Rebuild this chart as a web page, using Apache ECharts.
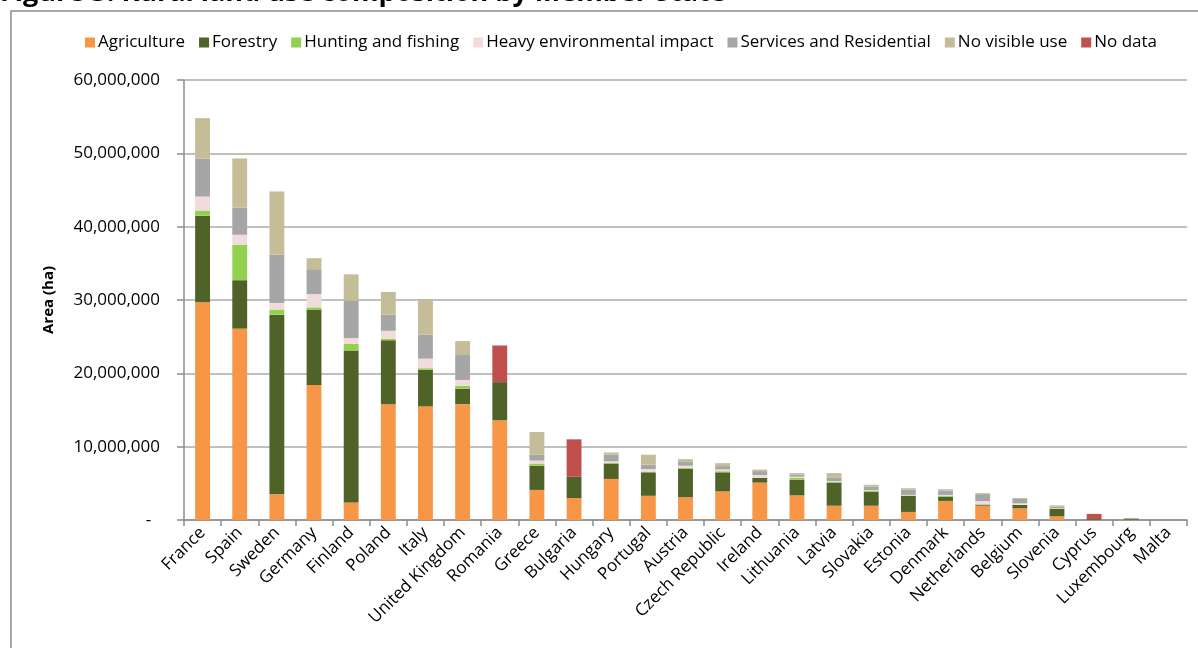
<!DOCTYPE html>
<html>
<head>
<meta charset="utf-8">
<script src="https://cdn.jsdelivr.net/npm/echarts@6/dist/echarts.min.js"></script>
<style>
html,body{margin:0;padding:0;background:#fff;}
#chart{width:1198px;height:648px;}
</style>
</head>
<body>
<div id="chart"></div>
<script>
const categories = ["France","Spain","Sweden","Germany","Finland","Poland","Italy","United Kingdom","Romania","Greece","Bulgaria","Hungary","Portugal","Austria","Czech Republic","Ireland","Lithuania","Latvia","Slovakia","Estonia","Denmark","Netherlands","Belgium","Slovenia","Cyprus","Luxembourg","Malta"];

const agriculture = [29700000,26100000,3500000,18400000,2400000,15800000,15500000,15800000,13600000,4100000,3000000,5600000,3300000,3100000,3900000,5100000,3360000,1950000,1950000,1100000,2600000,1950000,1600000,500000,30000,50000,10000];
const forestry = [11800000,6600000,24500000,10300000,20700000,8700000,5000000,2100000,5200000,3300000,2900000,2100000,3200000,3900000,2600000,650000,2140000,3150000,1900000,2200000,550000,150000,450000,1000000,100000,150000,10000];
const hunting = [700000,4800000,700000,300000,900000,200000,200000,400000,0,300000,0,100000,100000,100000,150000,20000,250000,120000,120000,50000,120000,30000,20000,50000,0,10000,0];
const heavyImpact = [1900000,1400000,900000,1800000,800000,1100000,1300000,800000,0,400000,0,200000,350000,300000,250000,350000,150000,80000,100000,80000,150000,450000,200000,50000,0,10000,0];
const services = [5200000,3700000,6600000,3400000,5100000,2200000,3300000,3400000,0,800000,0,900000,600000,500000,450000,550000,300000,450000,500000,700000,600000,950000,600000,220000,0,30000,5000];
const noVisibleUse = [5500000,6700000,8600000,1500000,3600000,3100000,4800000,1900000,0,3100000,0,300000,1350000,400000,400000,200000,200000,650000,230000,200000,180000,130000,130000,180000,0,30000,5000];
const noData = [0,0,0,0,0,0,0,0,5000000,0,5100000,0,0,0,0,0,0,0,0,0,0,0,0,0,700000,0,0];

const yTicks = [0,10000000,20000000,30000000,40000000,50000000,60000000];

const seriesDefs = [
  ["Agriculture", agriculture, "#F79646"],
  ["Forestry", forestry, "#4F6228"],
  ["Hunting and fishing", hunting, "#92D050"],
  ["Heavy environmental impact", heavyImpact, "#F2DCDB"],
  ["Services and Residential", services, "#A6A6A6"],
  ["No visible use", noVisibleUse, "#C4BD97"],
  ["No data", noData, "#C0504D"]
];

const chart = echarts.init(document.getElementById('chart'), null, {renderer:'canvas'});
const fmt = v => v === 0 ? '-  ' : v.toLocaleString('en-US');

chart.setOption({
  animation: false,
  textStyle: {fontFamily: 'Open Sans'},
  graphic: [
    {type:'rect', shape:{x:11, y:11, width:1200, height:700}, style:{fill:'none', stroke:'#8c8c8c', lineWidth:1.5}, z:-1},
    {type:'text', left:0, top:-20, style:{text:'Figure 3: Rural land use composition by Member State', font:'bold 27px "Open Sans"', fill:'#000'}}
  ],
  legend: {
    top: 29, left: 80,
    itemWidth: 10, itemHeight: 10, itemGap: 14,
    icon: 'rect',
    textStyle: {fontFamily:'Open Sans', fontSize: 17, color:'#000', padding:[0,0,0,-2]},
    data: seriesDefs.map(s => s[0])
  },
  grid: {left: 184, right: 11, top: 80, bottom: 128, containLabel: false},
  xAxis: {
    type: 'category',
    data: categories,
    boundaryGap: true,
    axisLine: {show:true, lineStyle:{color:'#8c8c8c', width:1.5}},
    axisTick: {show:true, interval:0, length:6, lineStyle:{color:'#8c8c8c', width:1.5}},
    axisLabel: {interval:0, rotate:45, fontSize:17, color:'#000', margin:10, fontFamily:'Open Sans'}
  },
  yAxis: {
    type: 'value',
    min: 0, max: 60000000, interval: 10000000,
    name: 'Area (ha)', nameLocation:'middle', nameGap: 128,
    nameTextStyle: {fontWeight:'bold', fontSize:15, color:'#000', fontFamily:'Open Sans'},
    axisLine: {show:true, lineStyle:{color:'#8c8c8c', width:1.5}},
    axisTick: {show:true, length:7, lineStyle:{color:'#8c8c8c', width:1.5}},
    axisLabel: {fontSize:17, color:'#000', margin:24, formatter: fmt, fontFamily:'Open Sans'},
    splitLine: {show:true, lineStyle:{color:'#ababab', width:1.5}}
  },
  series: seriesDefs.map(s => ({
    name: s[0], type: 'bar', stack: 'total', data: s[1],
    barWidth: '40%',
    itemStyle: {color: s[2]},
    emphasis: {disabled:true}
  }))
});
</script>
</body>
</html>
